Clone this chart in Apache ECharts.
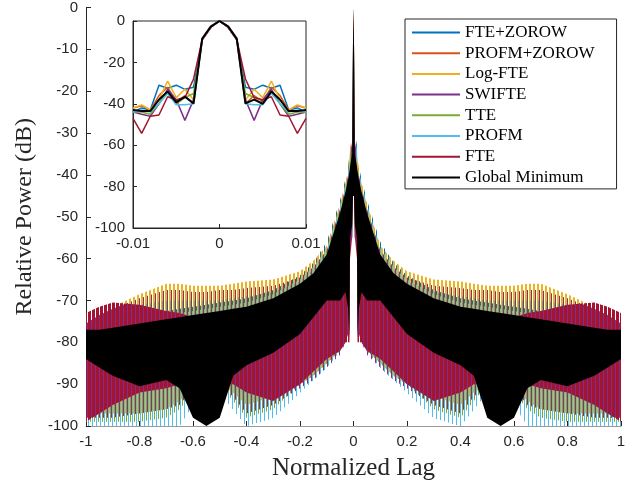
<!DOCTYPE html>
<html>
<head>
<meta charset="utf-8">
<script src="https://cdn.jsdelivr.net/npm/echarts@6/dist/echarts.min.js"></script>
<style>
html,body{margin:0;padding:0;background:#fff;}
#main{width:638px;height:486px;}
</style>
</head>
<body>
<div id="main"></div>
<script>
// series names, in MATLAB plotting order (last one drawn on top)
var NAMES = ['FTE+ZOROW','PROFM+ZOROW','Log-FTE','SWIFTE','TTE','PROFM','FTE','Global Minimum'];
var COLORS = ['#0072BD','#D95319','#EDB120','#7E2F8E','#77AC30','#4DBEEE','#A2142F','#000000'];

// positive lags where the envelopes were read (curves are symmetric about 0)
var LAG = [0, 0.002, 0.005, 0.013, 0.015, 0.02, 0.03, 0.05, 0.1, 0.15, 0.2, 0.3, 0.4, 0.45, 0.5, 0.55, 0.6, 0.65, 0.7, 0.8, 0.9, 0.95, 1];

// upper / lower envelope of the dense sidelobe oscillation, dB
var HI_FTEZ  = [0, -9, -30, -33, -35, -38, -41, -46, -56, -61, -64, -67.5, -69.5, -70, -70.5, -71, -71.5, -72, -72.5, -73.5, -74.5, -75, -75.5];
var LO_FTEZ  = [-45, -45, -55, -58, -75, -78, -80, -82, -86, -89, -92, -98, -100, -96, -92, -92, -94, -99, -100, -100, -100, -100, -100];
var HI_PROZ  = [0, -9, -31, -34, -36, -39, -42, -47, -57, -62, -65, -68.5, -70.5, -71, -71.5, -72, -72.5, -73, -73.5, -74.5, -75.5, -76, -76.5];
var LO_PROZ  = [-45, -45, -55, -58, -75, -78, -80, -82, -85, -88, -90, -94, -95, -92, -90, -90, -91, -94, -95, -96, -97, -97, -97];
var HI_LOG   = [0, -9, -31, -34, -36, -39, -42, -47, -57, -60.5, -63, -65, -65.5, -66, -66.5, -66.5, -66.5, -66, -66, -68.5, -71.5, -73, -75];
var LO_LOG   = [-45, -45, -55, -58, -75, -78, -80, -82, -85, -88, -90, -93, -95, -92, -90, -90, -91, -94, -96, -97, -97, -97, -97];
var HI_SWI   = [0, -9, -32, -35, -37, -40, -43, -48, -58, -62, -64.5, -66.5, -67, -67.5, -67.5, -68, -68, -67.5, -67.5, -69.5, -72, -73.5, -75.5];
var LO_SWI   = [-45, -48, -55, -60, -75, -78, -80, -83, -86, -89, -91, -95, -97, -93, -90, -90, -91, -95, -96, -97, -98, -98, -98];
var HI_TTE   = [0, -9, -32, -35, -37, -40, -43, -48, -58, -62.5, -65.5, -68, -69, -69.5, -70, -70, -70, -70, -70, -71, -73, -74.5, -76];
var LO_TTE   = [-45, -45, -55, -58, -75, -78, -80, -82, -85, -88, -90, -96, -98, -94, -90, -90, -92, -96, -98, -99, -99, -99, -99];
var HI_PRO   = [0, -9, -31, -34, -36, -39, -42, -47, -57.5, -62, -65, -68.5, -70.5, -71, -71.5, -72, -72.5, -73, -73.5, -74.5, -75.5, -76, -76.5];
var LO_PRO   = [-45, -45, -55, -58, -75, -78, -80, -82, -86, -89, -92, -98, -100, -96, -92, -92, -95, -100, -100, -100, -100, -100, -100];
var HI_FTE   = [0, -9, -36, -40, -42, -45, -48, -52, -62, -66, -68, -72, -74, -74.5, -75, -75, -74, -73, -72.5, -71, -70.5, -71.5, -73];
var LO_FTE   = [-45, -45, -55, -60, -80, -80, -80, -82, -84, -87, -90, -94, -92, -90, -90, -90, -90, -90, -91, -92, -95, -97, -99];
var HI_GM    = [0, -9, -35, -38, -39, -41, -44, -49, -59, -63.5, -66, -69.5, -71.5, -72, -72.5, -73, -73.5, -74, -74.5, -75.5, -76.5, -77, -77];
var LO_GM    = [-45, -45, -52, -55, -79, -72, -68, -70, -70, -74, -78, -82.5, -85.5, -88, -98, -100, -98, -91, -89, -90.5, -88, -86, -84];

var HI = [HI_FTEZ, HI_PROZ, HI_LOG, HI_SWI, HI_TTE, HI_PRO, HI_FTE, HI_GM];
var LO = [LO_FTEZ, LO_PROZ, LO_LOG, LO_SWI, LO_TTE, LO_PRO, LO_FTE, LO_GM];

// inset: main lobe, lag -0.01..0.01
var INSET_X = [-0.01, -0.009, -0.008, -0.007, -0.006, -0.005, -0.004, -0.003, -0.002, -0.001, 0, 0.001, 0.002, 0.003, 0.004, 0.005, 0.006, 0.007, 0.008, 0.009, 0.01];
var IN_FTEZ = [-44, -42, -43, -31, -32.5, -31, -33, -32, -9, -3, 0, -3, -9, -32, -33, -31, -32.5, -31, -43, -42, -44];
var IN_PROZ = [-42, -41, -43, -36, -32, -39, -36, -40, -9, -3, 0, -3, -9, -40, -36, -39, -32, -36, -43, -41, -42];
var IN_LOG  = [-42, -40.5, -43, -38, -29, -37, -33, -38, -9, -3, 0, -3, -9, -38, -33, -37, -29, -38, -43, -40.5, -42];
var IN_SWI  = [-44, -45, -46, -40, -33, -38, -48, -38, -9, -3, 0, -3, -9, -38, -48, -38, -33, -40, -46, -45, -44];
var IN_TTE  = [-44, -44, -45, -40, -34, -40, -37, -35, -9, -3, 0, -3, -9, -35, -37, -40, -34, -40, -45, -44, -44];
var IN_PRO  = [-44, -43, -44, -40, -35, -40.5, -40.5, -40, -9, -3, 0, -3, -9, -40, -40.5, -40.5, -35, -40, -44, -43, -44];
var IN_FTE  = [-47, -54.3, -46, -45.4, -36.6, -38, -37, -28, -9, -3, 0, -3, -9, -28, -37, -38, -36.6, -45.4, -46, -54.3, -47];
var IN_GM   = [-43, -43.5, -43.5, -38, -34, -39.3, -36.6, -39.8, -8.5, -2.6, 0, -2.6, -8.5, -39.8, -38, -40, -34, -38, -43.5, -43.5, -43];
var INSET = [IN_FTEZ, IN_PROZ, IN_LOG, IN_SWI, IN_TTE, IN_PRO, IN_FTE, IN_GM];

// which pixel columns (of 4) each band paints, so the bands read like dense spikes
var STRIPE = [[0], [2], [1, 2], [3], [2], [0], [0, 1, 2], null];

function stripe(color, cols){
	var c = document.createElement('canvas');
	c.width = 4; c.height = 1;
	var g = c.getContext('2d');
	g.fillStyle = color;
	for(var i=0;i<cols.length;i++){
		g.fillRect(cols[i], 0, 1, 1);
	}
	return {image: c, repeat: 'repeat'};
}

function band(k){
	var xs=[], up=[], dn=[];
	for(var i=LAG.length-1;i>0;i--){ xs.push(-LAG[i]); up.push(HI[k][i]); dn.push(LO[k][i]); }
	for(var i=0;i<LAG.length;i++){ xs.push(LAG[i]); up.push(HI[k][i]); dn.push(LO[k][i]); }
	var data=[];
	for(var i=0;i<xs.length;i++){ data.push([xs[i], up[i], dn[i]]); }
	var fill = STRIPE[k] ? stripe(COLORS[k], STRIPE[k]) : COLORS[k];
	return {
		name: NAMES[k],
		type: 'custom',
		xAxisIndex: 0, yAxisIndex: 0,
		data: data,
		encode: {x: 0, y: [1, 2]},
		itemStyle: {color: COLORS[k]},
		clip: true,
		silent: true,
		z: 2 + k,
		renderItem: function(params, api){
			if(params.dataIndex !== 0) return null;
			var pts=[];
			for(var j=0;j<xs.length;j++){ pts.push(api.coord([xs[j], up[j]])); }
			for(var j=xs.length-1;j>=0;j--){ pts.push(api.coord([xs[j], dn[j]])); }
			return {type: 'polygon', shape: {points: pts}, style: {fill: fill}};
		}
	};
}

var series=[];
for(var k=0;k<NAMES.length;k++){
	series.push(band(k));
}
for(var k=0;k<NAMES.length;k++){
	var d=[];
	for(var i=0;i<INSET_X.length;i++){ d.push([INSET_X[i], INSET[k][i]]); }
	series.push({
		name: NAMES[k],
		type: 'line',
		xAxisIndex: 1, yAxisIndex: 1,
		data: d,
		showSymbol: false,
		lineStyle: {color: COLORS[k], width: k==7 ? 2 : 1.5},
		itemStyle: {color: COLORS[k]},
		z: 20 + k,
		silent: true
	});
}

var axisCol = '#262626';
var lblFont = {fontFamily: 'Liberation Sans', fontSize: 15, color: axisCol};

var chart = echarts.init(document.getElementById('main'), null, {renderer: 'canvas'});
chart.setOption({
	backgroundColor: '#ffffff',
	animation: false,
	grid: [
		{left: 86, right: 17, top: 6, bottom: 54},
		{left: 133, top: 21, right: 332, bottom: 258, show: true, backgroundColor: '#fff', borderColor: axisCol, borderWidth: 1, z: 10}
	],
	legend: {
		orient: 'vertical',
		left: 405, top: 19,
		padding: [5, 22, 3, 7],
		itemGap: 3.7,
		itemWidth: 48, itemHeight: 2,
		icon: 'rect',
		backgroundColor: '#fff',
		borderColor: axisCol, borderWidth: 1,
		borderRadius: 0,
		textStyle: {fontFamily: 'Liberation Serif', fontSize: 17, color: '#000'},
		data: NAMES,
		selectedMode: false
	},
	xAxis: [
		{type: 'value', gridIndex: 0, min: -1, max: 1, interval: 0.2,
			name: 'Normalized Lag', nameLocation: 'middle', nameGap: 30,
			nameTextStyle: {fontFamily: 'Liberation Serif', fontSize: 25, color: axisCol},
			axisLine: {onZero: false, lineStyle: {color: '#9a9a9a', width: 1}},
			axisTick: {inside: true, length: 5, lineStyle: {color: axisCol}},
			axisLabel: lblFont, splitLine: {show: false}},
		{type: 'value', gridIndex: 1, min: -0.01, max: 0.01, interval: 0.01,
			axisLine: {onZero: false, lineStyle: {color: axisCol}},
			axisTick: {inside: true, length: 4, lineStyle: {color: axisCol}},
			axisLabel: lblFont, splitLine: {show: false}, z: 11}
	],
	yAxis: [
		{type: 'value', gridIndex: 0, min: -100, max: 0, interval: 10,
			name: 'Relative Power (dB)', nameLocation: 'middle', nameGap: 45,
			nameTextStyle: {fontFamily: 'Liberation Serif', fontSize: 24, color: axisCol},
			axisLine: {show: true, onZero: false, lineStyle: {color: axisCol}},
			axisTick: {inside: true, length: 5, lineStyle: {color: axisCol}},
			axisLabel: lblFont, splitLine: {show: false}},
		{type: 'value', gridIndex: 1, min: -100, max: 0, interval: 20,
			axisLine: {show: true, onZero: false, lineStyle: {color: axisCol}},
			axisTick: {inside: true, length: 4, lineStyle: {color: axisCol}},
			axisLabel: lblFont, splitLine: {show: false}, z: 11}
	],
	series: series
});
</script>
</body>
</html>
